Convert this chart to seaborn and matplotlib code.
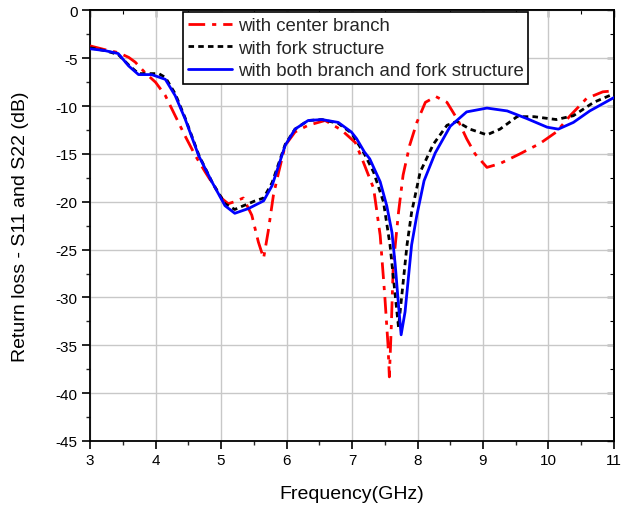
import matplotlib
matplotlib.use("Agg")
import matplotlib.pyplot as plt
import seaborn as sns
import pandas as pd
from matplotlib.ticker import MultipleLocator, NullFormatter

# --- data ---
freq_center = [3.0, 3.23, 3.43, 3.59, 3.69, 3.84, 4.0, 4.15, 4.30, 4.45, 4.61, 4.76, 5.02, 5.11, 5.2,
               5.34, 5.47, 5.57, 5.65, 5.72, 5.80, 5.88, 5.98, 6.13, 6.33, 6.59, 6.84, 7.05, 7.17, 7.33,
               7.43, 7.50, 7.55, 7.57, 7.60, 7.63, 7.71, 7.78, 7.88, 7.99, 8.12, 8.28, 8.45, 8.62, 8.75,
               8.88, 9.06, 9.26, 9.56, 9.87, 10.12, 10.33, 10.58, 10.83, 11.0]
s_center = [-3.7, -4.1, -4.4, -4.9, -5.4, -6.5, -7.5, -8.9, -11.0, -13.1, -15.2, -16.9, -19.7, -20.2, -20.0,
            -19.6, -21.4, -24.2, -25.9, -23.1, -19.3, -16.9, -14.1, -12.7, -12.0, -11.5, -12.5, -13.8, -15.8, -18.6,
            -23.5, -29.8, -35.0, -38.3, -33.0, -26.6, -21.1, -17.2, -14.1, -11.7, -9.6, -9.0, -9.6, -11.5, -13.4,
            -15.0, -16.4, -16.0, -15.0, -13.9, -12.7, -11.0, -9.2, -8.5, -8.4]

freq_fork = [3.0, 3.23, 3.43, 3.59, 3.74, 3.94, 4.05, 4.15, 4.30, 4.45, 4.66, 4.86, 5.06, 5.21, 5.31,
             5.52, 5.65, 5.78, 5.88, 5.98, 6.13, 6.33, 6.54, 6.79, 6.99, 7.19, 7.33, 7.48, 7.58, 7.66,
             7.71, 7.76, 7.84, 7.91, 8.04, 8.24, 8.45, 8.60, 8.80, 9.06, 9.26, 9.52, 9.78, 10.12, 10.38,
             10.69, 11.0]
s_fork = [-3.9, -4.2, -4.6, -5.7, -6.6, -6.6, -6.6, -7.0, -8.7, -11.2, -15.1, -17.9, -20.2, -20.8, -20.5,
          -19.9, -19.6, -18.0, -16.0, -14.0, -12.4, -11.5, -11.4, -11.8, -12.8, -15.0, -16.9, -20.0, -24.5, -29.8,
          -33.1, -29.8, -24.5, -21.1, -16.9, -14.0, -12.0, -11.6, -12.4, -13.0, -12.4, -11.1, -11.1, -11.4, -11.0,
          -9.6, -8.7]

freq_both = [3.0, 3.23, 3.43, 3.59, 3.74, 3.94, 4.15, 4.30, 4.45, 4.66, 4.86, 5.06, 5.21, 5.42, 5.65,
             5.78, 5.88, 5.98, 6.13, 6.33, 6.54, 6.79, 6.99, 7.07, 7.19, 7.27, 7.43, 7.53, 7.61, 7.66,
             7.71, 7.75, 7.81, 7.86, 7.91, 7.99, 8.10, 8.27, 8.50, 8.75, 9.06, 9.37, 9.67, 9.98, 10.15,
             10.38, 10.63, 11.0]
s_both = [-4.0, -4.2, -4.5, -5.8, -6.7, -6.7, -7.2, -8.9, -11.3, -15.2, -17.9, -20.4, -21.2, -20.7, -19.9,
          -18.3, -16.2, -14.1, -12.4, -11.5, -11.4, -11.7, -12.7, -13.4, -14.8, -15.5, -17.9, -20.4, -23.2, -26.6,
          -30.8, -33.9, -31.5, -28.0, -24.5, -21.4, -17.8, -14.9, -12.1, -10.6, -10.2, -10.5, -11.3, -12.2, -12.4,
          -11.7, -10.5, -9.1]

labels = ["with center branch", "with fork structure", "with both branch and fork structure"]
x_ticks = [3, 4, 5, 6, 7, 8, 9, 10, 11]
y_ticks = [0, -5, -10, -15, -20, -25, -30, -35, -40, -45]

sns.set_theme(style="white")
plt.rcParams['font.family'] = ['Liberation Sans', 'DejaVu Sans']

fig = plt.figure(figsize=(6.21, 5.06), dpi=100)
ax = fig.add_axes([0.145, 0.1265, 0.8437, 0.8508])

df_c = pd.DataFrame({"f": freq_center, "s": s_center})
df_f = pd.DataFrame({"f": freq_fork, "s": s_fork})
df_b = pd.DataFrame({"f": freq_both, "s": s_both})

sns.lineplot(data=df_c, x="f", y="s", ax=ax, color="#ff0000", lw=2, label=labels[0],
             linestyle=(0, (6, 2.5, 1.5, 2.5)), sort=False, zorder=3)
sns.lineplot(data=df_f, x="f", y="s", ax=ax, color="black", lw=2, label=labels[1],
             linestyle=(0, (2, 1.5)), sort=False, zorder=4)
sns.lineplot(data=df_b, x="f", y="s", ax=ax, color="#0000ff", lw=2, label=labels[2],
             linestyle="-", sort=False, zorder=5)

ax.set_xlim(3, 11)
ax.set_ylim(-45, 0)
ax.set_xticks(x_ticks)
ax.set_yticks(y_ticks)
ax.set_xticklabels([str(t) for t in x_ticks])
ax.set_yticklabels([str(t) for t in y_ticks])
ax.xaxis.set_minor_locator(MultipleLocator(0.5))
ax.yaxis.set_minor_locator(MultipleLocator(2.5))
ax.grid(True, which="major", color="#c8c8c8", lw=1)
ax.set_axisbelow(True)

for s in ax.spines.values():
    s.set_color("black")
    s.set_linewidth(1.3)

ax.tick_params(axis="both", which="major", direction="out", length=5.5, width=1.2,
               labelsize=11, colors="black", bottom=True, left=True, top=False, right=False)
ax.tick_params(axis="both", which="minor", direction="out", length=3, width=1.0,
               bottom=True, left=True, top=False, right=False)
ax.xaxis.set_tick_params(pad=3)

# inward mirrored ticks on top and right
secx = ax.secondary_xaxis("top")
secx.set_xticks(x_ticks)
secx.xaxis.set_minor_locator(MultipleLocator(0.5))
secx.xaxis.set_major_formatter(NullFormatter())
secx.tick_params(which="major", direction="in", length=5, width=1.0, colors="black")
secx.tick_params(which="minor", direction="in", length=3, width=0.8, colors="black")
secx.spines["top"].set_linewidth(1.3)
secx.spines["top"].set_color("black")
secy = ax.secondary_yaxis("right")
secy.set_yticks(y_ticks)
secy.yaxis.set_minor_locator(MultipleLocator(2.5))
secy.yaxis.set_major_formatter(NullFormatter())
secy.tick_params(which="major", direction="in", length=5, width=1.0, colors="black")
secy.tick_params(which="minor", direction="in", length=3, width=0.8, colors="black")
secy.spines["right"].set_linewidth(1.3)
secy.spines["right"].set_color("black")

ax.set_xlabel("Frequency(GHz)", fontsize=14, color="black", labelpad=13)
ax.set_ylabel("Return loss - S11 and S22 (dB)", fontsize=14, color="black", labelpad=19)

leg = ax.legend(loc="upper center", bbox_to_anchor=(0.507, 1.0), fontsize=13.4,
                frameon=True, fancybox=False, edgecolor="black", framealpha=1,
                handlelength=2.4, handletextpad=0.3, borderpad=0.25, labelspacing=0.3,
                borderaxespad=0.1)
leg.get_frame().set_linewidth(1.2)

fig.savefig("out.png", dpi=100)
